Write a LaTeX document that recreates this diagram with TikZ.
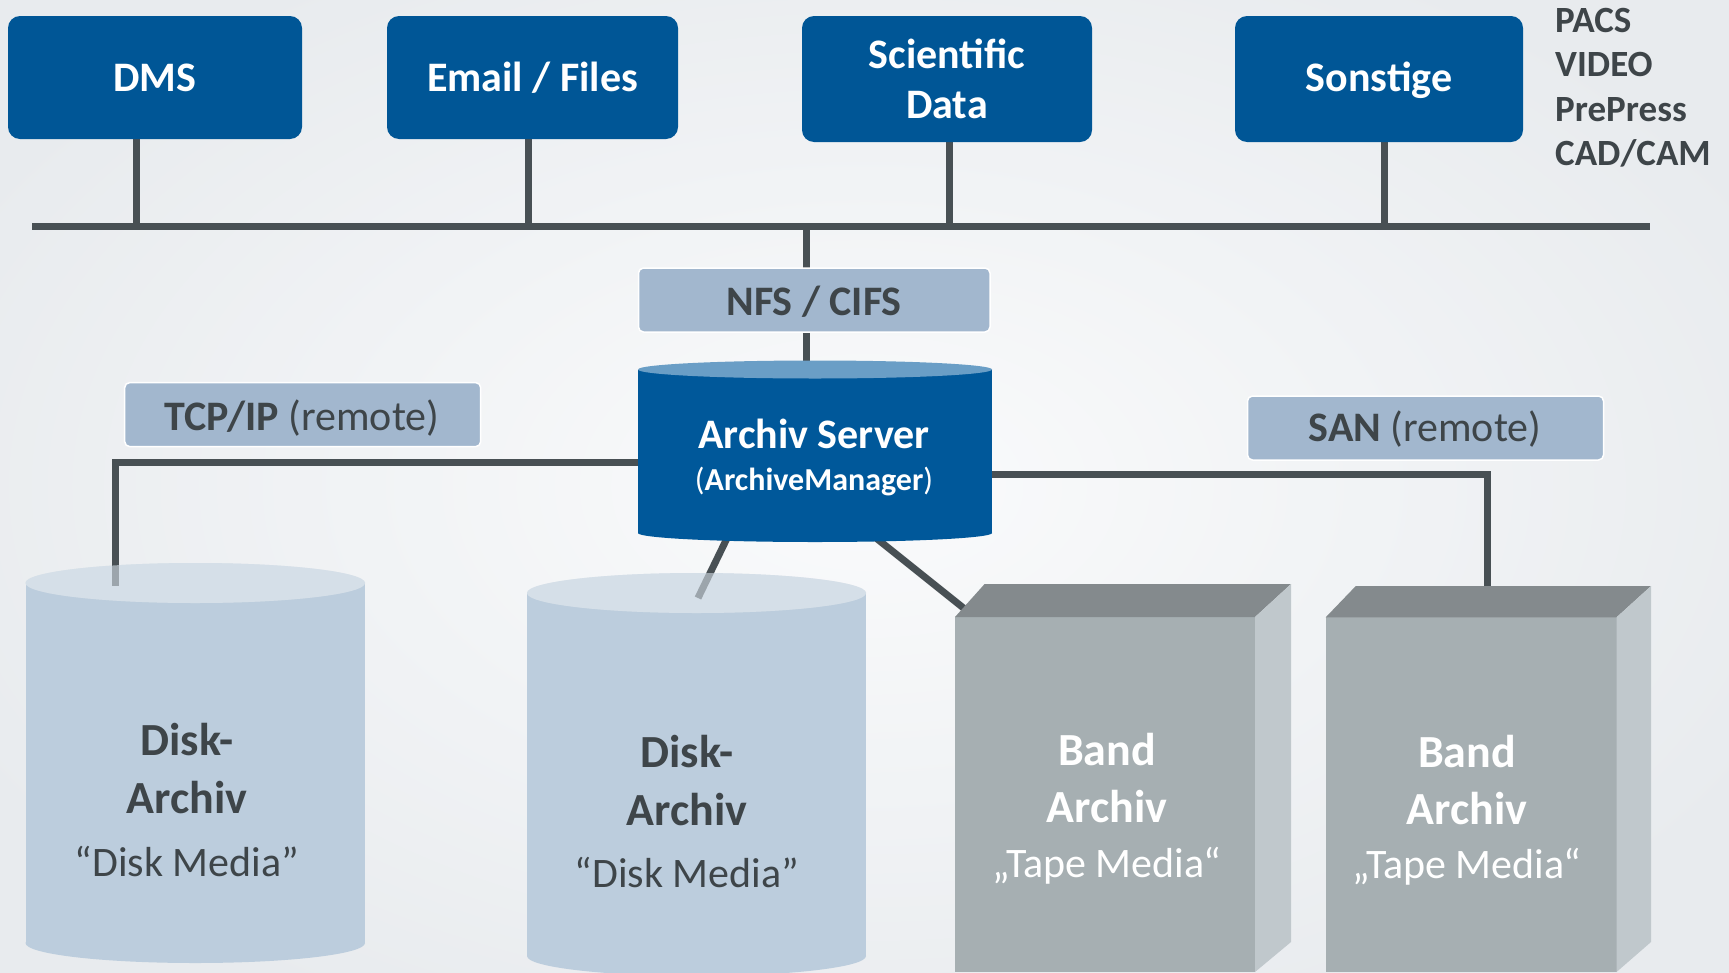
\documentclass[tikz,border=0pt]{standalone}
\usepackage{fontspec}
\setmainfont{Carlito}
\definecolor{topblue}{HTML}{005696}
\definecolor{srvblue}{HTML}{00589A}
\definecolor{srvtop}{HTML}{6A9EC6}
\definecolor{lblfill}{HTML}{A2B7CE}
\definecolor{linecol}{HTML}{485054}
\definecolor{txtgray}{HTML}{3E4549}
\definecolor{diskbody}{HTML}{BCCDDD}
\definecolor{disktop}{HTML}{D5DFE8}
\definecolor{bandtop}{HTML}{848A8D}
\definecolor{bandfront}{HTML}{A6AFB2}
\definecolor{bandside}{HTML}{C0C8CC}
\definecolor{bgin}{HTML}{FAFBFC}
\definecolor{bgout}{HTML}{E8EBEE}
\newcommand{\srcfont}{\fontsize{42}{50}\selectfont\bfseries}
\newcommand{\lblfont}{\fontsize{42}{50}\selectfont}
\newcommand{\mgrfont}{\fontsize{32}{38}\selectfont}
\newcommand{\archfont}{\fontsize{46}{55}\selectfont\bfseries}
\newcommand{\mediafont}{\fontsize{42}{50}\selectfont}
\newcommand{\listfont}{\fontsize{37}{45}\selectfont\bfseries}
\begin{document}
\begin{tikzpicture}[x=1pt,y=-1pt,
  srcbox/.style={fill=topblue, rounded corners=12pt, inner sep=0pt},
  lblbox/.style={fill=lblfill, draw=white, line width=1.5pt, rounded corners=5pt, inner sep=0pt, minimum width=356pt, minimum height=64pt},
  conn/.style={draw=linecol, line width=7pt},
  wtxt/.style={text=white, inner sep=0pt, anchor=base},
  gtxt/.style={text=txtgray, inner sep=0pt, anchor=base}]
\useasboundingbox (0,0) rectangle (1729,972);
\shade[inner color=bgin, outer color=bgout] (-150,-120) rectangle (1879,1092);

% ---------- disk archives (cylinders)
\fill[diskbody] (25.5,583) rectangle (365,943);
\fill[diskbody] (195.25,943) ellipse (169.75 and 20);
\fill[disktop] (195.25,583) ellipse (169.75 and 20);
\fill[diskbody] (527,593) rectangle (866,956);
\fill[diskbody] (696.5,956) ellipse (169.5 and 20);
\fill[disktop] (696.5,593) ellipse (169.5 and 20);

% ---------- named points
\coordinate (busL) at (32,226);
\coordinate (busR) at (1650,226);
\coordinate (d1) at (136,139);
\coordinate (d2) at (528,139);
\coordinate (d3) at (949,142);
\coordinate (d4) at (1384,142);
\coordinate (hub) at (806,226);
\coordinate (srvtopc) at (806,372);
\coordinate (srvL) at (645,462);
\coordinate (srvR) at (985,474.5);
\coordinate (srvB1) at (731,530);
\coordinate (srvB2) at (866,530);
\coordinate (disk1in) at (115,586);
\coordinate (disk2in) at (698,598);
\coordinate (band1in) at (966,610);
\coordinate (band2in) at (1487.5,590);

% ---------- connectors
\draw[conn] (busL) -- (busR);
\foreach \p in {d1,d2,d3,d4} \draw[conn] (\p) -- (\p |- busL);
\draw[conn] (hub) -- (srvtopc);
\draw[conn] (srvL) -| (disk1in);
\draw[conn, line width=6.5pt] (srvR) -| (band2in);
\draw[conn] (srvB1) -- (disk2in);
\draw[conn] (srvB2) -- (band1in);

% fade line ends over cylinder tops
\fill[disktop, opacity=0.6] (195.25,583) ellipse (169.75 and 20);
\fill[disktop, opacity=0.6] (696.5,593) ellipse (169.5 and 20);

% ---------- tape archives (boxes)
\fill[bandfront] (955,617) rectangle (1255,972);
\fill[bandtop] (955,617) -- (984.6,584) -- (1291,584) -- (1255,617) -- cycle;
\fill[bandside] (1255,617) -- (1291,584) -- (1291,942) -- (1255,972) -- cycle;
\fill[bandfront] (1325.7,617.3) rectangle (1616.5,972);
\fill[bandtop] (1325.7,617.3) -- (1355.8,586) -- (1651,586) -- (1616.5,617.3) -- cycle;
\fill[bandside] (1616.5,617.3) -- (1651,586) -- (1651,942) -- (1616.5,972) -- cycle;

% ---------- archive server (cylinder)
\fill[srvblue] (638,369.5) rectangle (992,533);
\fill[srvblue] (815,533) ellipse (177 and 9);
\fill[srvtop] (815,369.5) ellipse (177 and 9);

% ---------- source boxes
\node[srcbox, minimum width=294pt, minimum height=123pt] (dms) at (155,77.5) {};
\node[srcbox, minimum width=291pt, minimum height=123pt] (email) at (532.5,77.5) {};
\node[srcbox, minimum width=290pt, minimum height=126pt] (sci) at (947,79) {};
\node[srcbox, minimum width=288pt, minimum height=126pt] (sonst) at (1379,79) {};
\node[wtxt, font=\srcfont] (dmst) at (155,91.7) {DMS};
\node[wtxt, font=\srcfont] (emailt) at (532.5,91.7) {Email / Files};
\node[wtxt, font=\srcfont] (scit1) at (947,68.3) {Scientific};
\node[wtxt, font=\srcfont] (scit2) at (947,118.3) {Data};
\node[wtxt, font=\srcfont] (sonstt) at (1379,91.7) {Sonstige};

% ---------- list at right
\node[gtxt, anchor=base west, font=\listfont] (l1) at (1555,32) {PACS};
\node[gtxt, anchor=base west, font=\listfont] (l2) at (1555,76.5) {VIDEO};
\node[gtxt, anchor=base west, font=\listfont] (l3) at (1555,121) {PrePress};
\node[gtxt, anchor=base west, font=\listfont] (l4) at (1555,165.5) {CAD/CAM};

% ---------- protocol labels
\node[lblbox, minimum width=351.5pt] (nfs) at (814.25,300) {};
\node[lblbox] (tcp) at (302.7,414.6) {};
\node[lblbox] (san) at (1425.5,428) {};
\node[gtxt, font=\lblfont\bfseries] (nfst) at (814,315.4) {NFS / CIFS};
\node[gtxt, font=\lblfont] (tcpt) at (302,430) {\textbf{TCP/IP} (remote)};
\node[gtxt, font=\lblfont] (sant) at (1425,441.7) {\textbf{SAN} (remote)};

% ---------- server text
\node[wtxt, font=\srcfont] (srvt1) at (814,448.3) {Archiv Server};
\node[wtxt, font=\mgrfont] (srvt2) at (814,490) {(\textbf{ArchiveManager})};

% ---------- archive texts
\node[gtxt, font=\archfont] (a1) at (187,755) {Disk-};
\node[gtxt, font=\archfont] (a2) at (187,813) {Archiv};
\node[gtxt, font=\mediafont] (a3) at (187,876) {“Disk Media”};
\node[gtxt, font=\archfont] (b1) at (687,767) {Disk-};
\node[gtxt, font=\archfont] (b2) at (687,825) {Archiv};
\node[gtxt, font=\mediafont] (b3) at (687,887) {“Disk Media”};
\node[wtxt, font=\archfont] (c1) at (1107,765) {Band};
\node[wtxt, font=\archfont] (c2) at (1107,822.5) {Archiv};
\node[wtxt, font=\mediafont] (c3) at (1107,877) {„Tape Media“};
\node[wtxt, font=\archfont] (e1) at (1467,767) {Band};
\node[wtxt, font=\archfont] (e2) at (1467,824) {Archiv};
\node[wtxt, font=\mediafont] (e3) at (1467,878) {„Tape Media“};
\end{tikzpicture}
\end{document}
